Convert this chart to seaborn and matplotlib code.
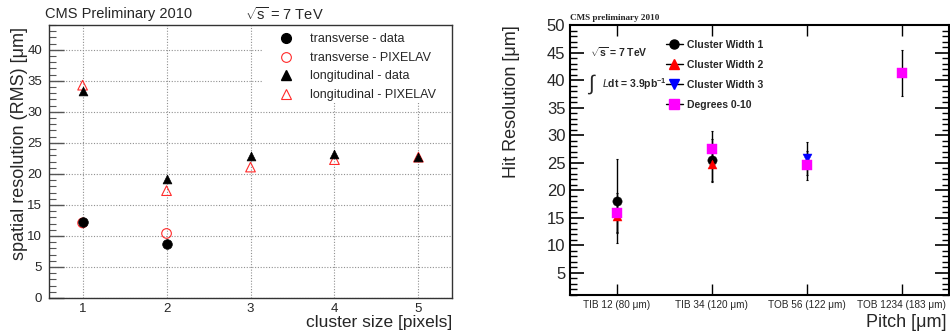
import numpy as np
import matplotlib
matplotlib.use("Agg")
import matplotlib.pyplot as plt
import seaborn as sns
from matplotlib.lines import Line2D
from matplotlib.patches import Rectangle
from matplotlib.ticker import MultipleLocator

# ---------------- data: left panel ----------------
cluster_size = [1, 2, 3, 4, 5]
trans_data = [12.2, 8.7, np.nan, np.nan, np.nan]
trans_pixelav = [12.1, 10.4, np.nan, np.nan, np.nan]
long_data = [33.4, 19.1, 22.9, 23.2, 22.8]
long_pixelav = [34.3, 17.3, 21.1, 22.3, 22.7]
left_labels = ["transverse - data", "transverse - PIXELAV",
               "longitudinal - data", "longitudinal - PIXELAV"]

# ---------------- data: right panel ----------------
categories = ["TIB 12 (80 μm)", "TIB 34 (120 μm)", "TOB 56 (122 μm)", "TOB 1234 (183 μm)"]
cw1 = [18.0, 25.5, np.nan, np.nan]
cw1_err = [7.6, 3.8, np.nan, np.nan]
cw2 = [15.3, 24.7, np.nan, np.nan]
cw2_err = [3.0, 3.3, np.nan, np.nan]
cw3 = [np.nan, np.nan, 25.8, np.nan]
cw3_err = [np.nan, np.nan, 3.0, np.nan]
deg = [15.9, 27.5, 24.5, 41.3]
deg_err = [3.5, 3.2, 2.7, 4.2]
right_labels = ["Cluster Width 1", "Cluster Width 2", "Cluster Width 3", "Degrees 0-10"]

sns.set_style("white")
plt.rcParams["font.family"] = ["Liberation Sans", "DejaVu Sans"]
plt.rcParams["mathtext.fontset"] = "custom"
plt.rcParams["mathtext.rm"] = "Liberation Sans"
plt.rcParams["mathtext.it"] = "Liberation Sans:italic"
plt.rcParams["mathtext.bf"] = "Liberation Sans:bold"

fig = plt.figure(figsize=(9.5, 3.35), dpi=100)
axL = fig.add_axes([49/950, 37/335, 403/950, 273/335])
axR = fig.add_axes([569.5/950, 40/335, 379.5/950, 270/335])

# ---------------- left panel ----------------
red = "#ff2a2a"
sns.scatterplot(x=cluster_size, y=trans_data, ax=axL, marker="o", s=48,
                color="black", edgecolor="black", linewidth=0.5, zorder=4)
sns.scatterplot(x=cluster_size, y=trans_pixelav, ax=axL, marker="o", s=48,
                facecolors="none", edgecolor=red, linewidth=0.8, zorder=3)
sns.scatterplot(x=cluster_size, y=long_data, ax=axL, marker="^", s=40,
                color="black", edgecolor="black", linewidth=0.5, zorder=4)
sns.scatterplot(x=cluster_size, y=long_pixelav, ax=axL, marker="^", s=48,
                facecolors="none", edgecolor=red, linewidth=0.8, zorder=3)

axL.set_xlim(0.6, 5.4)
axL.set_ylim(0, 44)
axL.set_xticks(cluster_size)
axL.yaxis.set_minor_locator(MultipleLocator(1))
axL.set_yticks(np.arange(0, 41, 5))
axL.set_axisbelow(True)
axL.grid(True, which="major", color="#909090", linestyle=(0, (1, 1.5)), linewidth=0.8)
axL.tick_params(axis="y", which="major", direction="in", length=11, width=1,
                color="#555555", labelsize=9.5, pad=5, left=True)
axL.tick_params(axis="y", which="minor", direction="in", length=5, width=0.8,
                color="#555555", left=True)
axL.tick_params(axis="x", which="both", length=0, labelsize=9.5, pad=3.5)
for sp in axL.spines.values():
    sp.set_color("#333333")
    sp.set_linewidth(1.0)
axL.set_xlabel("")
axL.set_ylabel("")

# white legend background hiding the grid
axL.add_patch(Rectangle(((262-49)/403, (298-103)/273), 1 - (262-49)/403, 78/273,
                        transform=axL.transAxes, facecolor="white", edgecolor="none", zorder=1))

hL = [Line2D([], [], ls="none", marker="o", ms=7, mfc="black", mec="black"),
      Line2D([], [], ls="none", marker="o", ms=7, mfc="none", mec=red, mew=0.8),
      Line2D([], [], ls="none", marker="^", ms=6.5, mfc="black", mec="black"),
      Line2D([], [], ls="none", marker="^", ms=7, mfc="none", mec=red, mew=0.8)]
legL = axL.legend(hL, left_labels, loc="upper left",
                  bbox_to_anchor=((279.75-49)/403, (298-33.5)/273),
                  frameon=False, fontsize=9, handlelength=1.0, handletextpad=1.42,
                  labelspacing=0.52, borderpad=0.0, borderaxespad=0.0)
legL.set_zorder(5)

fig.text(45/950, (335-14)/335, "CMS Preliminary 2010", fontsize=10.5, va="center", ha="left")
fig.text(245/950, (335-14)/335, r"$\sqrt{\mathrm{s}}$ = 7 TeV", fontsize=10.5, va="center", ha="left")
fig.text(20/950, (335-27)/335, "spatial resolution (RMS) [μm]", rotation=90,
         fontsize=13, va="top", ha="center")
fig.text(452/950, (335-327)/335, "cluster size [pixels]", fontsize=12.5,
         va="baseline", ha="right")

# ---------------- right panel ----------------
xpos = list(range(len(categories)))
series = [(cw1, cw1_err, "o", "black", 45),
          (cw2, cw2_err, "^", "red", 42),
          (cw3, cw3_err, "v", "blue", 42),
          (deg, deg_err, "s", "magenta", 55)]
for vals, errs, mk, col, sz in series:
    axR.errorbar(xpos, vals, yerr=errs, fmt="none", ecolor="black",
                 elinewidth=1.0, capsize=1.0, capthick=0.8, zorder=2)
for vals, errs, mk, col, sz in series:
    sns.scatterplot(x=xpos, y=vals, ax=axR, marker=mk, s=sz, color=col,
                    edgecolor=col, linewidth=0.3, zorder=4)

axR.set_xlim(-0.5, 3.5)
axR.set_ylim(0.95, 50)
axR.set_xticks(xpos)
axR.set_xticklabels(categories)
axR.set_yticks(np.arange(5, 51, 5))
axR.yaxis.set_minor_locator(MultipleLocator(1))
axR.tick_params(axis="y", which="major", direction="in", length=10, width=1.2,
                labelsize=12, pad=3, left=True, right=True, color="black")
axR.tick_params(axis="y", which="minor", direction="in", length=5, width=1.0,
                left=True, right=True, color="black")
axR.tick_params(axis="x", which="major", direction="in", length=8, width=1.0,
                labelsize=7.2, pad=3.5, bottom=True, top=True, color="black")
for sp in axR.spines.values():
    sp.set_color("black")
    sp.set_linewidth(1.5)
axR.set_xlabel("")
axR.set_ylabel("")

hR = [Line2D([], [], color="black", lw=1, marker=mk, ms=6.5 if mk != "s" else 7,
             mfc=col, mec=col) for _, _, mk, col, _ in series]
legR = axR.legend(hR, right_labels, loc="upper left",
                  bbox_to_anchor=((666-569.5)/379.5, (295-40)/270),
                  frameon=False, handlelength=1.6, handletextpad=0.45,
                  labelspacing=0.95, borderaxespad=0.0, borderpad=0.0,
                  prop={"size": 7.5, "weight": "bold"})

axR.text(0.055, 0.90, r"$\sqrt{\mathbf{s}}$ = 7 TeV", transform=axR.transAxes,
         fontsize=7.5, fontweight="bold", va="center", ha="left")
axR.text(0.045, 0.78, r"$\int$", transform=axR.transAxes, fontsize=15,
         va="center", ha="left")
axR.text(0.085, 0.78, r"$\mathit{L}$dt = 3.9pb$^{\mathbf{-1}}$", transform=axR.transAxes,
         fontsize=7.5, fontweight="bold", va="center", ha="left")
axR.text(0.0, 1.01, "CMS preliminary 2010", transform=axR.transAxes,
         fontsize=6.6, fontweight="bold", family=["Liberation Serif", "DejaVu Serif"],
         va="bottom", ha="left")

fig.text(511/950, (335-25)/335, "Hit Resolution [μm]", rotation=90,
         fontsize=13, va="top", ha="center")
fig.text(947/950, (335-327)/335, "Pitch [μm]", fontsize=13, va="baseline", ha="right")

fig.savefig("out.png", dpi=100)
